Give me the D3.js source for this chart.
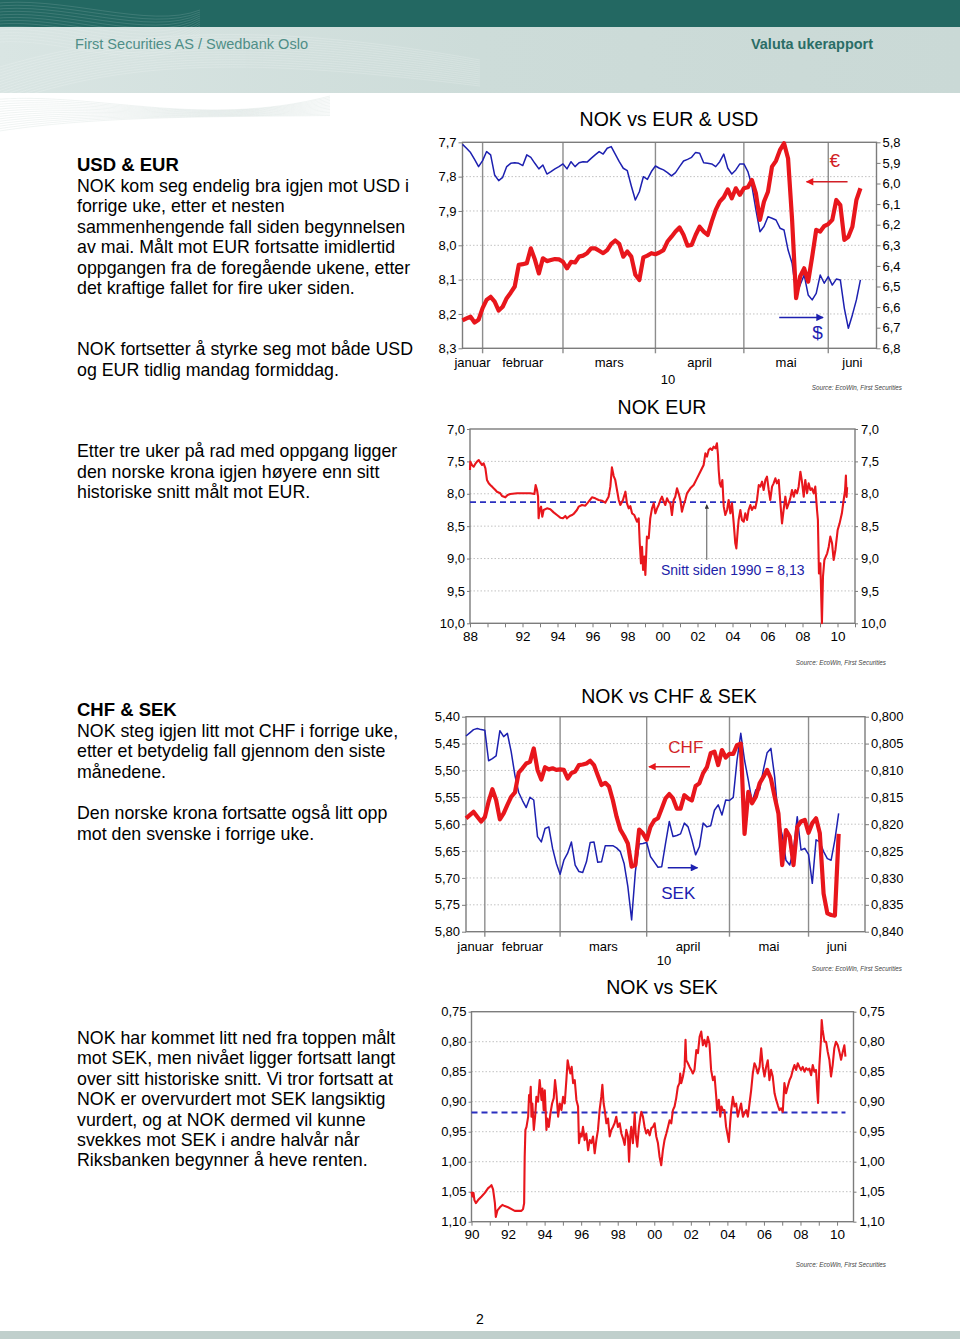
<!DOCTYPE html>
<html><head><meta charset="utf-8">
<script src="https://cdn.jsdelivr.net/npm/d3@7/dist/d3.min.js"></script>
<style>
html,body{margin:0;padding:0;background:#fff;}
svg{display:block;}
svg text{font-family:"Liberation Sans",Arial,Helvetica,sans-serif;}
</style></head>
<body>
<svg id="page" width="960" height="1339" viewBox="0 0 960 1339"></svg>
<script>
// ================= DATA =================
const dailyStart = "2010-01-25";
const monthNames = ["januar","februar","mars","april","mai","juni"];

// NOK vs EUR (left axis) & USD (right axis), weekdays from 25 Jan 2010
const eurDaily = [8.219,8.213,8.208,8.225,8.217,8.183,8.159,8.150,8.164,8.190,
 8.179,8.154,8.138,8.120,8.057,8.055,8.052,8.009,8.041,8.082,
 8.038,8.046,8.043,8.040,8.041,8.048,8.067,8.048,8.050,8.033,
 8.030,8.023,8.009,8.009,8.016,8.023,8.014,7.996,7.986,7.996,
 8.033,8.018,8.033,8.086,8.101,8.035,8.030,8.023,8.026,8.021,
 8.014,7.989,7.975,7.960,7.948,7.970,8.001,7.999,7.970,7.946,
 7.960,7.970,7.931,7.897,7.873,7.860,7.837,7.863,7.834,7.853,
 7.834,7.831,7.810,7.849,7.926,7.873,7.844,7.771,7.754,7.722,
 7.703,7.747,7.926,8.154,8.091,8.067,8.106,8.033,7.955,7.960,
 7.944,7.938,7.926,7.868,7.883,7.984,7.975,7.946,7.868,7.834];
const usdDaily = [5.810,5.829,5.850,5.883,5.918,5.889,5.845,5.861,5.959,5.986,
 5.970,5.918,5.902,5.899,5.902,5.913,5.861,5.873,5.902,5.929,
 5.910,5.954,5.942,5.929,5.918,5.905,5.929,5.894,5.918,5.899,
 5.894,5.896,5.878,5.861,5.845,5.857,5.829,5.821,5.857,5.894,
 5.926,5.938,6.012,6.080,6.040,5.967,5.980,5.942,5.915,5.926,
 5.934,5.947,5.963,5.947,5.918,5.891,5.883,5.873,5.849,5.853,
 5.899,5.902,5.905,5.918,5.894,5.857,5.926,5.954,5.934,5.905,
 5.905,5.942,6.012,6.128,6.234,6.209,6.161,6.169,6.177,6.217,
 6.226,6.323,6.387,6.533,6.493,6.444,6.541,6.565,6.533,6.444,
 6.484,6.452,6.493,6.464,6.468,6.606,6.703,6.638,6.565,6.468];

// NOK vs CHF (left axis) & SEK (right axis)
const chfDaily = [5.589,5.583,5.577,5.586,5.595,5.587,5.558,5.535,5.555,5.591,
 5.580,5.564,5.549,5.541,5.504,5.496,5.487,5.484,5.459,5.499,
 5.517,5.494,5.498,5.496,5.499,5.498,5.499,5.515,5.505,5.502,
 5.490,5.489,5.487,5.482,5.490,5.509,5.527,5.523,5.530,5.555,
 5.586,5.610,5.622,5.636,5.679,5.676,5.610,5.617,5.629,5.605,
 5.593,5.589,5.571,5.552,5.544,5.552,5.571,5.571,5.546,5.552,
 5.556,5.529,5.524,5.505,5.494,5.468,5.465,5.490,5.462,5.476,
 5.469,5.469,5.453,5.450,5.618,5.540,5.561,5.549,5.524,5.512,
 5.499,5.515,5.549,5.580,5.676,5.611,5.623,5.676,5.605,5.595,
 5.592,5.616,5.598,5.589,5.617,5.729,5.766,5.769,5.770,5.618];
const sekDaily = [0.8036,0.8030,0.8024,0.8022,0.8024,0.8025,0.8082,0.8078,0.8073,0.8026,
 0.8037,0.8031,0.8065,0.8109,0.8141,0.8156,0.8169,0.8150,0.8155,0.8223,
 0.8233,0.8208,0.8205,0.8245,0.8273,0.8293,0.8267,0.8254,0.8233,0.8276,
 0.8288,0.8290,0.8270,0.8234,0.8233,0.8271,0.8270,0.8240,0.8240,0.8240,
 0.8244,0.8251,0.8273,0.8316,0.8378,0.8288,0.8237,0.8236,0.8234,0.8260,
 0.8270,0.8280,0.8279,0.8236,0.8195,0.8223,0.8221,0.8218,0.8198,0.8205,
 0.8229,0.8257,0.8242,0.8198,0.8205,0.8203,0.8174,0.8164,0.8183,0.8155,
 0.8156,0.8150,0.8081,0.8031,0.8081,0.8118,0.8158,0.8136,0.8136,0.8099,
 0.8067,0.8059,0.8112,0.8192,0.8220,0.8267,0.8276,0.8248,0.8186,0.8248,
 0.8245,0.8256,0.8310,0.8229,0.8233,0.8251,0.8264,0.8267,0.8229,0.8180];

// NOK EUR long history
const eurLongYear = [1989.00,1989.02,1989.11,1989.21,1989.30,1989.40,1989.50,1989.59,1989.69,1989.78,1989.88,1989.97,
 1990.07,1990.16,1990.26,1990.35,1990.45,1990.54,1990.73,1990.83,1991.02,1991.15,1991.30,1991.69,1992.07,1992.45,
 1992.68,1992.75,1992.83,1992.89,1992.92,1992.98,1993.06,1993.13,1993.21,1993.40,1993.59,1993.78,1993.97,1994.16,
 1994.31,1994.45,1994.54,1994.70,1994.83,1994.92,1995.11,1995.21,1995.40,1995.59,1995.78,1995.97,1996.16,1996.35,
 1996.54,1996.73,1996.92,1997.02,1997.11,1997.21,1997.30,1997.40,1997.50,1997.59,1997.74,1997.88,1997.97,1998.07,
 1998.16,1998.26,1998.39,1998.54,1998.64,1998.70,1998.77,1998.83,1998.89,1998.96,1999.02,1999.08,1999.11,1999.21,
 1999.30,1999.40,1999.50,1999.59,1999.69,1999.78,1999.88,1999.97,2000.07,2000.16,2000.26,2000.35,2000.45,2000.54,
 2000.64,2000.73,2000.83,2000.92,2001.02,2001.11,2001.21,2001.30,2001.40,2001.59,2001.78,2001.97,2002.16,2002.35,
 2002.45,2002.54,2002.64,2002.73,2002.83,2002.92,2003.02,2003.11,2003.17,2003.21,2003.27,2003.34,2003.42,2003.50,
 2003.59,2003.69,2003.78,2003.88,2003.97,2004.07,2004.16,2004.22,2004.30,2004.35,2004.45,2004.54,2004.64,2004.73,
 2004.83,2004.92,2005.02,2005.11,2005.21,2005.30,2005.40,2005.50,2005.59,2005.69,2005.78,2005.88,2005.97,2006.07,
 2006.16,2006.26,2006.35,2006.45,2006.54,2006.64,2006.73,2006.83,2006.92,2007.02,2007.11,2007.21,2007.30,2007.40,
 2007.50,2007.59,2007.69,2007.78,2007.88,2007.97,2008.07,2008.16,2008.26,2008.35,2008.45,2008.54,2008.64,2008.73,
 2008.83,2008.88,2008.94,2009.02,2009.11,2009.17,2009.25,2009.41,2009.50,2009.59,2009.69,2009.78,2009.88,2010.01,
 2010.12,2010.25,2010.35,2010.43,2010.48,2010.52,2010.55];
const eurLongValue = [7.633,7.504,7.556,7.582,7.540,7.504,7.479,7.520,7.556,7.530,7.607,7.787,
 7.839,7.865,7.890,7.916,7.942,7.968,7.993,8.034,8.055,8.019,8.004,7.993,7.993,7.993,
 8.004,7.865,7.942,8.045,8.379,8.251,8.199,8.354,8.251,8.225,8.240,8.287,8.328,8.369,
 8.379,8.343,8.379,8.343,8.328,8.312,8.251,8.199,8.173,8.184,8.122,8.055,8.071,8.096,
 8.107,8.137,8.045,7.890,7.592,7.726,7.787,7.942,8.096,8.173,8.096,7.968,8.148,8.225,
 8.189,8.302,8.328,8.431,8.379,8.765,9.074,8.817,9.177,8.971,9.254,8.868,8.662,8.688,
 8.379,8.225,8.148,8.302,8.225,8.173,8.096,8.045,8.122,8.173,8.071,8.122,8.148,8.328,
 8.096,8.045,7.916,7.993,8.096,8.276,8.173,8.096,7.993,7.916,7.865,7.762,7.659,7.556,
 7.376,7.427,7.324,7.299,7.324,7.273,7.299,7.221,7.401,7.633,7.839,7.890,7.787,8.199,
 8.328,8.251,8.096,8.302,8.148,8.457,8.765,8.843,8.559,8.405,8.251,8.405,8.431,8.302,
 8.405,8.251,8.173,8.251,8.199,8.225,8.096,7.865,7.890,7.813,7.942,7.787,7.736,7.942,
 8.096,7.890,7.839,7.762,7.839,7.787,8.122,8.457,8.251,8.045,8.225,8.148,8.071,7.942,
 8.045,7.942,7.993,7.890,7.659,7.813,8.045,7.787,7.993,7.839,7.942,7.916,7.993,7.890,
 8.251,8.405,9.229,9.074,10.000,9.280,9.023,8.920,8.817,8.662,8.765,9.023,8.868,8.559,
 8.457,8.302,8.100,7.950,7.720,8.050,7.900];
const eurAverage = 8.13;

// NOK vs SEK long history
const sekLongYear = [1990.00,1990.05,1990.11,1990.16,1990.24,1990.36,1990.55,1990.73,1990.91,1991.00,1991.09,1991.18,
 1991.28,1991.33,1991.42,1991.55,1991.69,1991.82,1992.00,1992.19,1992.37,1992.55,1992.73,1992.82,1992.88,1992.91,
 1992.95,1993.01,1993.10,1993.15,1993.19,1993.24,1993.28,1993.33,1993.41,1993.48,1993.55,1993.64,1993.73,1993.83,
 1993.88,1993.95,1994.01,1994.10,1994.15,1994.23,1994.32,1994.41,1994.50,1994.57,1994.64,1994.74,1994.83,1994.92,
 1995.01,1995.10,1995.19,1995.26,1995.34,1995.41,1995.48,1995.56,1995.65,1995.74,1995.83,1995.88,1995.96,1996.03,
 1996.10,1996.19,1996.28,1996.38,1996.47,1996.56,1996.65,1996.74,1996.83,1996.92,1997.01,1997.10,1997.16,1997.23,
 1997.29,1997.38,1997.47,1997.56,1997.65,1997.74,1997.83,1997.92,1998.01,1998.11,1998.20,1998.29,1998.38,1998.47,
 1998.56,1998.62,1998.69,1998.74,1998.83,1998.93,1998.98,1999.07,1999.16,1999.24,1999.29,1999.38,1999.47,1999.56,
 1999.65,1999.75,1999.84,1999.93,2000.02,2000.11,2000.20,2000.29,2000.38,2000.47,2000.56,2000.66,2000.75,2000.84,
 2000.93,2001.02,2001.11,2001.20,2001.29,2001.38,2001.42,2001.48,2001.57,2001.66,2001.71,2001.75,2001.84,2001.93,
 2002.02,2002.11,2002.20,2002.30,2002.39,2002.48,2002.57,2002.66,2002.75,2002.84,2002.93,2003.02,2003.11,2003.21,
 2003.30,2003.39,2003.44,2003.53,2003.61,2003.68,2003.75,2003.84,2003.93,2004.03,2004.08,2004.15,2004.21,2004.30,
 2004.39,2004.48,2004.57,2004.66,2004.75,2004.85,2004.94,2005.03,2005.12,2005.21,2005.30,2005.39,2005.48,2005.57,
 2005.66,2005.76,2005.85,2005.94,2006.03,2006.12,2006.21,2006.30,2006.39,2006.48,2006.58,2006.67,2006.76,2006.85,
 2006.94,2007.03,2007.12,2007.21,2007.30,2007.40,2007.49,2007.58,2007.67,2007.76,2007.85,2007.94,2008.03,2008.12,
 2008.22,2008.31,2008.40,2008.49,2008.58,2008.67,2008.76,2008.85,2008.91,2008.96,2009.03,2009.12,2009.16,2009.21,
 2009.31,2009.40,2009.49,2009.58,2009.67,2009.76,2009.85,2009.94,2010.04,2010.13,2010.22,2010.31,2010.40,2010.46];
const sekLongValue = [1.050,1.058,1.052,1.064,1.069,1.064,1.058,1.052,1.044,1.042,1.039,1.046,
 1.069,1.092,1.081,1.076,1.072,1.074,1.076,1.079,1.082,1.082,1.082,1.079,1.069,0.992,
 0.947,0.942,0.925,0.889,0.900,0.875,0.925,0.903,0.947,0.925,0.892,0.900,0.864,0.897,
 0.878,0.914,0.881,0.947,0.928,0.942,0.919,0.903,0.894,0.864,0.883,0.925,0.903,0.914,
 0.892,0.903,0.864,0.831,0.844,0.853,0.842,0.869,0.864,0.897,0.908,0.969,0.953,0.958,
 0.942,0.964,0.953,0.981,0.964,0.969,0.958,0.986,0.964,0.947,0.914,0.892,0.872,0.903,
 0.914,0.936,0.928,0.958,0.947,0.942,0.936,0.925,0.942,0.936,0.953,0.961,0.972,0.947,
 0.958,1.000,0.956,0.942,0.969,0.919,0.953,0.975,0.942,0.925,0.917,0.925,0.942,0.953,
 0.947,0.956,0.944,0.942,0.936,0.958,0.969,0.992,1.006,0.981,0.964,0.953,0.942,0.931,
 0.936,0.914,0.908,0.894,0.875,0.869,0.853,0.869,0.858,0.842,0.797,0.831,0.836,0.842,
 0.847,0.853,0.847,0.814,0.819,0.792,0.783,0.806,0.797,0.808,0.792,0.803,0.847,0.864,
 0.858,0.892,0.914,0.897,0.925,0.908,0.914,0.914,0.942,0.958,0.967,0.936,0.914,0.892,
 0.908,0.903,0.925,0.914,0.903,0.925,0.919,0.914,0.925,0.903,0.881,0.853,0.836,0.842,
 0.853,0.842,0.811,0.842,0.858,0.842,0.831,0.864,0.847,0.858,0.886,0.897,0.906,0.914,
 0.911,0.917,0.869,0.886,0.875,0.864,0.858,0.847,0.839,0.847,0.836,0.842,0.847,0.842,
 0.850,0.844,0.847,0.845,0.856,0.839,0.850,0.847,0.880,0.902,0.841,0.797,0.764,0.780,
 0.800,0.800,0.817,0.830,0.858,0.839,0.811,0.800,0.806,0.817,0.830,0.817,0.806,0.825];
const sekAverage = 0.918;

// tick values / labels
const ticksEurL = [7.7,7.8,7.9,8.0,8.1,8.2,8.3];
const ticksUsdR = [5.8,5.9,6.0,6.1,6.2,6.3,6.4,6.5,6.6,6.7,6.8];
const ticksChfL = [5.40,5.45,5.50,5.55,5.60,5.65,5.70,5.75,5.80];
const ticksSekR = [0.800,0.805,0.810,0.815,0.820,0.825,0.830,0.835,0.840];
const ticksEurLong = [7.0,7.5,8.0,8.5,9.0,9.5,10.0];
const ticksSekLong = [0.75,0.80,0.85,0.90,0.95,1.00,1.05,1.10];
const eurLongLabelYears = [1989,1992,1994,1996,1998,2000,2002,2004,2006,2008,2010];
const eurLongLabels = ["88","92","94","96","98","00","02","04","06","08","10"];
const sekLongLabelYears = [1990,1992,1994,1996,1998,2000,2002,2004,2006,2008,2010];
const sekLongLabels = ["90","92","94","96","98","00","02","04","06","08","10"];

// ================= DRAWING =================
const svg = d3.select("#page");
const RED = "#e8161c", BLUE = "#1d20b0", GRID = "#c2c2c2", AXIS = "#7c7c7c";
const comma = f => v => d3.format(f)(v).replace(".", ",");

const defs = svg.append("defs");
function marker(id, color){
  defs.append("marker").attr("id", id).attr("viewBox","0 0 10 10").attr("refX",9).attr("refY",5)
    .attr("markerWidth",6).attr("markerHeight",5).attr("orient","auto")
    .append("path").attr("d","M0,0 L10,5 L0,10 z").attr("fill", color);
}
marker("arR", RED); marker("arB", BLUE); marker("arK", "#333");

// ---- header
svg.append("rect").attr("x",0).attr("y",0).attr("width",960).attr("height",27).attr("fill","#236862");
const hg = defs.append("linearGradient").attr("id","hband").attr("x1",0).attr("x2",1).attr("y1",0).attr("y2",0);
hg.append("stop").attr("offset","0").attr("stop-color","#d9e5e3");
hg.append("stop").attr("offset","0.5").attr("stop-color","#cddcd9");
hg.append("stop").attr("offset","1").attr("stop-color","#cad9d6");
svg.append("rect").attr("x",0).attr("y",27).attr("width",960).attr("height",66).attr("fill","url(#hband)");
const waves = svg.append("g").attr("fill","none");
for (let k = 0; k < 14; k++) {
  waves.append("path")
    .attr("d", `M-10 ${4 + k*3} C 60 ${-6 + k*3}, 150 ${30 + k*4}, 200 ${10 + k*2}`)
    .attr("stroke","#ffffff").attr("stroke-opacity",0.16).attr("stroke-width",0.8);
  waves.append("path")
    .attr("d", `M-10 ${70 + k*3} C 120 ${30 + k*2}, 260 ${20 + k*3}, 480 ${60 + k*2}`)
    .attr("stroke","#ffffff").attr("stroke-opacity",0.22).attr("stroke-width",0.8);
  waves.append("path")
    .attr("d", `M-10 ${100 + k*2.5} C 90 ${90 + k*2}, 200 ${130 - k}, 330 ${96 + k*1.5}`)
    .attr("stroke","#c9d6d4").attr("stroke-opacity",0.35).attr("stroke-width",0.8);
}
svg.append("text").attr("x",75).attr("y",49).attr("font-size",15).attr("fill","#4f8e87")
  .attr("textLength",233).attr("lengthAdjust","spacingAndGlyphs")
  .style("font-family",'"Liberation Sans Narrow","Arial Narrow","Liberation Sans",sans-serif')
  .text("First Securities AS / Swedbank Oslo");
svg.append("text").attr("x",873).attr("y",49).attr("font-size",15).attr("font-weight","bold").attr("fill","#2a6d66")
  .attr("text-anchor","end").attr("textLength",122).attr("lengthAdjust","spacingAndGlyphs")
  .style("font-family",'"Liberation Sans Narrow","Arial Narrow","Liberation Sans",sans-serif')
  .text("Valuta ukerapport");

// ---- footer
svg.append("text").attr("x",480).attr("y",1324).attr("font-size",14).attr("text-anchor","middle").text("2");
svg.append("rect").attr("x",0).attr("y",1331).attr("width",960).attr("height",8).attr("fill","#c0cfcc");

// ---- left text
function textBlock(lines, x, y0, step){
  lines.forEach((l, i) => {
    const t = svg.append("text").attr("x", x).attr("y", y0 + i*step).attr("font-size", l.bold ? 18.5 : 17.8)
      .attr("fill","#000").text(l.t);
    if (l.bold) t.attr("font-weight","bold");
  });
}
textBlock([{t:"USD & EUR",bold:true},{t:"NOK kom seg endelig bra igjen mot USD i"},{t:"forrige uke, etter et nesten"},
  {t:"sammenhengende fall siden begynnelsen"},{t:"av mai. Målt mot EUR fortsatte imidlertid"},
  {t:"oppgangen fra de foregående ukene, etter"},{t:"det kraftige fallet for fire uker siden."}], 77, 171, 20.5);
textBlock([{t:"NOK fortsetter å styrke seg mot både USD"},{t:"og EUR tidlig mandag formiddag."}], 77, 355, 20.5);
textBlock([{t:"Etter tre uker på rad med oppgang ligger"},{t:"den norske krona igjen høyere enn sitt"},
  {t:"historiske snitt målt mot EUR."}], 77, 457, 20.5);
textBlock([{t:"CHF & SEK",bold:true},{t:"NOK steg igjen litt mot CHF i forrige uke,"},
  {t:"etter et betydelig fall gjennom den siste"},{t:"månedene."}], 77, 716, 20.5);
textBlock([{t:"Den norske krona fortsatte også litt opp"},{t:"mot den svenske i forrige uke."}], 77, 819, 20.5);
textBlock([{t:"NOK har kommet litt ned fra toppen målt"},{t:"mot SEK, men nivået ligger fortsatt langt"},
  {t:"over sitt historiske snitt. Vi tror fortsatt at"},{t:"NOK er overvurdert mot SEK langsiktig"},
  {t:"vurdert, og at NOK dermed vil kunne"},{t:"svekkes mot SEK i andre halvår når"},
  {t:"Riksbanken begynner å heve renten."}], 77, 1044, 20.4);

// ---- helpers
function weekdaysUntil(start, end){
  const out = []; const d = new Date(start + "T00:00:00Z"); const e = new Date(end + "T00:00:00Z");
  while (d <= e) { const w = d.getUTCDay(); if (w !== 0 && w !== 6) out.push(new Date(d)); d.setUTCDate(d.getUTCDate() + 1); }
  return out;
}
function styleAxis(ax, size){
  ax.select(".domain").remove();
  ax.selectAll(".tick line").attr("stroke", AXIS).attr("stroke-width", 1);
  ax.selectAll(".tick text").attr("font-size", size).attr("fill", "#000")
    .style("font-family", '"Liberation Sans",Arial,sans-serif');
}
function frame(g, b){
  g.append("rect").attr("x", b.x0).attr("y", b.y0).attr("width", b.x1 - b.x0).attr("height", b.y1 - b.y0)
    .attr("fill","none").attr("stroke", AXIS).attr("stroke-width", 1.4);
}
function source(x, y){
  svg.append("text").attr("x", x).attr("y", y).attr("text-anchor","end").attr("font-size",6.3)
    .attr("font-style","italic").attr("fill","#444").text("Source: EcoWin, First Securities");
}
function title(x, y, t){
  svg.append("text").attr("x", x).attr("y", y).attr("text-anchor","middle").attr("font-size",19.5).attr("fill","#000").text(t);
}

// ---- daily dual-axis chart
function dailyChart(o){
  const g = svg.append("g");
  const days = weekdaysUntil(dailyStart, o.axisEnd);
  const n = days.length - 1;
  const x = d3.scaleLinear().domain([0, n]).range([o.box.x0, o.box.x1]);
  const yL = d3.scaleLinear().domain([o.leftTicks[0], o.leftTicks[o.leftTicks.length-1]]).range([o.box.y0, o.box.y1]);
  const yR = d3.scaleLinear().domain([o.rightTicks[0], o.rightTicks[o.rightTicks.length-1]]).range([o.box.y0, o.box.y1]);
  g.selectAll("line.hg").data(o.leftTicks.slice(1, -1)).join("line")
    .attr("x1", o.box.x0).attr("x2", o.box.x1).attr("y1", d => yL(d)).attr("y2", d => yL(d))
    .attr("stroke", GRID).attr("stroke-dasharray", "1.5,2");
  const bounds = [];
  for (let i = 1; i < days.length; i++) if (days[i].getUTCMonth() !== days[i-1].getUTCMonth()) bounds.push(i);
  g.selectAll("line.mb").data(bounds).join("line")
    .attr("x1", d => x(d)).attr("x2", d => x(d)).attr("y1", o.box.y0).attr("y2", o.box.y1 + 5)
    .attr("stroke", "#8d8d8d").attr("stroke-width", 1.4);
  const edges = [0, ...bounds, n];
  g.selectAll("text.ml").data(monthNames).join("text")
    .attr("x", (d, i) => x((edges[i] + edges[i+1]) / 2)).attr("y", o.box.y1 + 19)
    .attr("text-anchor", "middle").attr("font-size", 13).text(d => d);
  g.append("text").attr("x", (o.box.x0 + o.box.x1) / 2 - 1.5).attr("y", o.box.y1 + o.yearDy)
    .attr("text-anchor", "middle").attr("font-size", 13).text("10");
  frame(g, o.box);
  g.append("g").attr("transform", `translate(${o.box.x0},0)`)
    .call(d3.axisLeft(yL).tickValues(o.leftTicks).tickFormat(comma(o.fmtL)).tickSize(4).tickPadding(2))
    .call(ax => styleAxis(ax, 13));
  g.append("g").attr("transform", `translate(${o.box.x1},0)`)
    .call(d3.axisRight(yR).tickValues(o.rightTicks).tickFormat(comma(o.fmtR)).tickSize(4).tickPadding(2))
    .call(ax => styleAxis(ax, 13));
  g.append("path").datum(o.right).attr("fill","none").attr("stroke", BLUE).attr("stroke-width", 1.5)
    .attr("stroke-linejoin","round")
    .attr("d", d3.line().x((d, i) => x(i)).y(d => yR(d)));
  g.append("path").datum(o.left).attr("fill","none").attr("stroke", RED).attr("stroke-width", 4.2)
    .attr("stroke-linejoin","round")
    .attr("d", d3.line().x((d, i) => x(i)).y(d => yL(d)));
  // annotations
  const a = o.ann;
  g.append("text").attr("x", x(a.lLabel[0])).attr("y", yL(a.lLabel[1])).attr("text-anchor","middle")
    .attr("font-size", a.size).attr("fill", "#d21f26").text(a.lText);
  g.append("line").attr("x1", x(a.lArrow[0])).attr("x2", x(a.lArrow[1])).attr("y1", yL(a.lArrow[2])).attr("y2", yL(a.lArrow[2]))
    .attr("stroke", "#d21f26").attr("stroke-width", 1.5).attr("marker-end", "url(#arR)");
  g.append("text").attr("x", x(a.rLabel[0])).attr("y", yR(a.rLabel[1])).attr("text-anchor","middle")
    .attr("font-size", a.size).attr("fill", BLUE).text(a.rText);
  g.append("line").attr("x1", x(a.rArrow[0])).attr("x2", x(a.rArrow[1])).attr("y1", yR(a.rArrow[2])).attr("y2", yR(a.rArrow[2]))
    .attr("stroke", BLUE).attr("stroke-width", 1.5).attr("marker-end", "url(#arB)");
}

// ---- long history chart
function longChart(o){
  const g = svg.append("g");
  const x = d3.scaleLinear().domain(o.xDomain).range([o.box.x0, o.box.x1]);
  const y = d3.scaleLinear().domain([o.ticks[0], o.ticks[o.ticks.length-1]]).range([o.box.y0, o.box.y1]);
  g.selectAll("line.hg").data(o.ticks.slice(1, -1)).join("line")
    .attr("x1", o.box.x0).attr("x2", o.box.x1).attr("y1", d => y(d)).attr("y2", d => y(d))
    .attr("stroke", GRID).attr("stroke-dasharray", "1.5,2");
  frame(g, o.box);
  g.append("g").attr("transform", `translate(${o.box.x0},0)`)
    .call(d3.axisLeft(y).tickValues(o.ticks).tickFormat(comma(o.fmt)).tickSize(3).tickPadding(2))
    .call(ax => styleAxis(ax, 13));
  g.append("g").attr("transform", `translate(${o.box.x1},0)`)
    .call(d3.axisRight(y).tickValues(o.ticks).tickFormat(comma(o.fmt)).tickSize(3).tickPadding(3))
    .call(ax => styleAxis(ax, 13));
  const yearTicks = d3.range(Math.ceil(o.xDomain[0]), Math.floor(o.xDomain[1]) + 1);
  const labelOf = new Map(o.labelYears.map((yy, i) => [yy, o.labels[i]]));
  g.append("g").attr("transform", `translate(0,${o.box.y1})`)
    .call(d3.axisBottom(x).tickValues(yearTicks).tickFormat(v => labelOf.get(v) || "").tickSize(4).tickPadding(4))
    .call(ax => styleAxis(ax, 13.5));
  const pts = o.years.map((yy, i) => [yy, o.values[i]]);
  g.append("line").attr("x1", x(o.xDomain[0])).attr("x2", x(o.years[o.years.length-1]))
    .attr("y1", y(o.avg)).attr("y2", y(o.avg))
    .attr("stroke", "#2a2fbf").attr("stroke-width", 1.8).attr("stroke-dasharray", "6,4");
  g.append("path").datum(pts).attr("fill","none").attr("stroke", RED).attr("stroke-width", 2.1)
    .attr("stroke-linejoin","round")
    .attr("d", d3.line().x(d => x(d[0])).y(d => y(d[1])));
  if (o.note) {
    g.append("line").attr("x1", x(o.note.arrowX)).attr("x2", x(o.note.arrowX))
      .attr("y1", y(o.note.arrowFrom)).attr("y2", y(o.note.arrowTo))
      .attr("stroke", "#444").attr("stroke-width", 0.9).attr("marker-end", "url(#arK)");
    g.append("text").attr("x", x(o.note.x)).attr("y", y(o.note.y)).attr("font-size", 14)
      .attr("fill", "#1d22a8").text(o.note.text);
  }
}

// ---- Chart 1: NOK vs EUR & USD
title(669, 126, "NOK vs EUR & USD");
dailyChart({
  box: {x0: 462.5, x1: 876.5, y0: 142.3, y1: 348.3},
  axisEnd: "2010-06-17", yearDy: 36,
  left: eurDaily, right: usdDaily,
  leftTicks: ticksEurL, rightTicks: ticksUsdR, fmtL: ".1f", fmtR: ".1f",
  ann: {size: 19, lText: "€", lLabel: [92.6, 7.771], lArrow: [95.8, 85.6, 7.815],
        rText: "$", rLabel: [88.3, 6.757], rArrow: [78.8, 89.7, 6.650]}
});
source(902, 390);

// ---- Chart 2: NOK EUR
title(662, 413.5, "NOK EUR");
longChart({
  box: {x0: 470, x1: 855, y0: 429, y1: 623.3},
  xDomain: [1989, 2011], ticks: ticksEurLong, fmt: ".1f",
  years: eurLongYear, values: eurLongValue, avg: eurAverage,
  labelYears: eurLongLabelYears, labels: eurLongLabels,
  note: {text: "Snitt siden 1990 = 8,13", x: 1999.91, y: 9.254, arrowX: 2002.53, arrowFrom: 9.02, arrowTo: 8.17}
});
source(886, 665);

// ---- Chart 3: NOK vs CHF & SEK
title(669, 703, "NOK vs CHF & SEK");
dailyChart({
  box: {x0: 466, x1: 865, y0: 716.7, y1: 931.7},
  axisEnd: "2010-06-22", yearDy: 33.5,
  left: chfDaily, right: sekDaily,
  leftTicks: ticksChfL, rightTicks: ticksSekR, fmtL: ".2f", fmtR: ".3f",
  ann: {size: 17, lText: "CHF", lLabel: [58.4, 5.467], lArrow: [59.5, 48.6, 5.493],
        rText: "SEK", rLabel: [56.4, 0.8340], rArrow: [53.6, 61.5, 0.8281]}
});
source(902, 971);

// ---- Chart 4: NOK vs SEK
title(662, 993.5, "NOK vs SEK");
longChart({
  box: {x0: 471.5, x1: 853.5, y0: 1011.7, y1: 1221.7},
  xDomain: [1990, 2010.9], ticks: ticksSekLong, fmt: ".2f",
  years: sekLongYear, values: sekLongValue, avg: sekAverage,
  labelYears: sekLongLabelYears, labels: sekLongLabels
});
source(886, 1267);
</script>
</body></html>
